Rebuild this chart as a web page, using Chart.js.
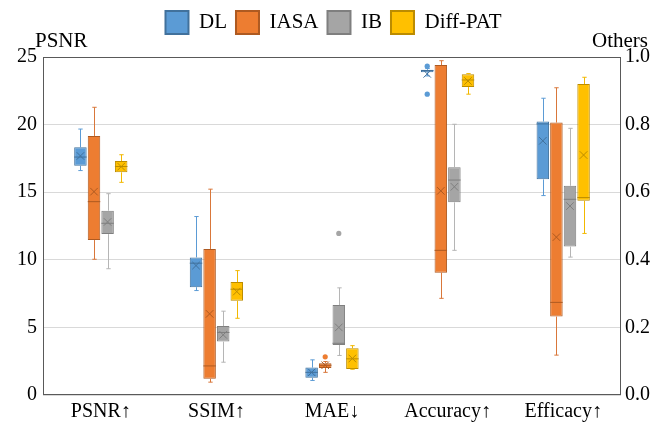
<!DOCTYPE html>
<html><head><meta charset="utf-8">
<script src="https://cdn.jsdelivr.net/npm/chart.js@4/dist/chart.umd.min.js"></script>
<style>html,body{margin:0;padding:0;background:#fff}</style>
</head><body>
<canvas id="c" width="651" height="425"></canvas>
<script>
const categories = ['PSNR↑', 'SSIM↑', 'MAE↓', 'Accuracy↑', 'Efficacy↑'];
const seriesNames = ['DL', 'IASA', 'IB', 'Diff-PAT'];
const leftAxisTitle = 'PSNR';
const rightAxisTitle = 'Others';
const leftTicks = [0, 5, 10, 15, 20, 25];
const rightTicks = [0.0, 0.2, 0.4, 0.6, 0.8, 1.0];

// per category: [whiskerLow, q1, median, q3, whiskerHigh, mean]
// category 0 (PSNR) on the left axis, the rest on the right axis
const dlStats = [
  [16.6, 16.96, 17.6, 18.32, 19.67, 17.68],
  [0.309, 0.319, 0.39, 0.407, 0.528, 0.383],
  [0.043, 0.051, 0.067, 0.081, 0.104, 0.067],
  [0.944, 0.955, 0.960, 0.962, 0.966, 0.950],
  [0.590, 0.638, 0.802, 0.809, 0.878, 0.752]
];
const iasaStats = [
  [10.04, 11.46, 14.3, 19.16, 21.28, 15.04],
  [0.038, 0.048, 0.086, 0.432, 0.609, 0.24],
  [0.067, 0.080, 0.088, 0.094, 0.099, 0.088],
  [0.286, 0.362, 0.428, 0.976, 0.989, 0.604],
  [0.118, 0.232, 0.274, 0.806, 0.909, 0.467]
];
const ibStats = [
  [9.34, 11.9, 12.7, 13.63, 14.89, 12.8],
  [0.097, 0.158, 0.185, 0.204, 0.248, 0.178],
  [0.117, 0.148, 0.153, 0.266, 0.317, 0.2],
  [0.428, 0.570, 0.636, 0.674, 0.801, 0.616],
  [0.408, 0.439, 0.579, 0.619, 0.789, 0.559]
];
const diffPatStats = [
  [15.73, 16.47, 16.9, 17.31, 17.77, 16.89],
  [0.227, 0.279, 0.313, 0.334, 0.368, 0.306],
  [0.076, 0.077, 0.107, 0.138, 0.146, 0.108],
  [0.890, 0.911, 0.932, 0.949, 0.951, 0.929],
  [0.478, 0.575, 0.584, 0.920, 0.940, 0.710]
];
const dlOutliers = [[], [], [], [0.973, 0.890], []];
const iasaOutliers = [[], [], [0.113], [], []];
const ibOutliers = [[], [], [0.478], [], []];
const diffPatOutliers = [[], [], [], [], []];

const fills = ['#5B9BD5', '#ED7D31', '#A5A5A5', '#FFC000'];
const borders = ['#41719C', '#AE5A21', '#7F7F7F', '#BC8C00'];
const whiskers = ['#5B9BD5', '#D9773A', '#B5B5B5', '#F2B800'];
const allStats = [dlStats, iasaStats, ibStats, diffPatStats];
const allOutliers = [dlOutliers, iasaOutliers, ibOutliers, diffPatOutliers];

const datasets = [];
seriesNames.forEach((name, s) => {
  ['y', 'y1'].forEach(axis => {
    datasets.push({
      label: name,
      yAxisID: axis,
      data: allStats[s].map((st, j) => ((axis === 'y') === (j === 0)) ? [st[1], st[3]] : null),
      stats: allStats[s],
      outliers: allOutliers[s],
      backgroundColor: fills[s],
      borderColor: borders[s],
      whiskerColor: whiskers[s],
      borderWidth: 1,
      borderSkipped: false,
      skipNull: true,
      categoryPercentage: 0.47,
      barPercentage: 0.92
    });
  });
});

const serif = '"Liberation Serif", "Times New Roman", serif';

const boxPlugin = {
  id: 'boxExtras',
  afterInit(chart) {
    const lg = chart.legend;
    if (lg) {
      const orig = lg.fit;
      lg.fit = function () { orig.call(this); this.height = 57; };
    }
  },
  afterLayout(chart) {
    const lg = chart.legend;
    if (lg) { lg.left += 8; lg.right += 8; lg.top += 2; lg.bottom += 2; }
  },
  beforeDatasetsDraw(chart) {
    const a = chart.chartArea, ctx = chart.ctx;
    ctx.save();
    ctx.strokeStyle = '#595959';
    ctx.lineWidth = 1;
    ctx.strokeRect(Math.round(a.left) + 0.5, Math.round(a.top) + 0.5,
      Math.round(a.right - a.left) - 1, Math.round(a.bottom - a.top) - 1);
    ctx.restore();
  },
  afterDatasetsDraw(chart) {
    const ctx = chart.ctx;
    ctx.save();
    chart.data.datasets.forEach((ds, di) => {
      const meta = chart.getDatasetMeta(di);
      const scale = chart.scales[ds.yAxisID];
      const px = v => scale.getPixelForValue(v);
      ds.data.forEach((v, j) => {
        if (!v) return;
        const el = meta.data[j];
        const s = ds.stats[j];
        const x = Math.round(el.x) + 0.5;
        const hw = el.width / 2;
        const cw = Math.max(2, hw * 0.35);
        ctx.lineWidth = 1;
        ctx.strokeStyle = ds.whiskerColor;
        ctx.beginPath();
        ctx.moveTo(x, px(s[3])); ctx.lineTo(x, px(s[4]));
        ctx.moveTo(x - cw, px(s[4])); ctx.lineTo(x + cw, px(s[4]));
        ctx.moveTo(x, px(s[1])); ctx.lineTo(x, px(s[0]));
        ctx.moveTo(x - cw, px(s[0])); ctx.lineTo(x + cw, px(s[0]));
        ctx.stroke();
        // median
        ctx.strokeStyle = ds.borderColor;
        ctx.beginPath();
        ctx.moveTo(el.x - hw, px(s[2])); ctx.lineTo(el.x + hw, px(s[2]));
        ctx.stroke();
        // mean marker
        const my = px(s[5]);
        const r = Math.min(4, hw * 0.6);
        ctx.beginPath();
        ctx.moveTo(el.x - r, my - r); ctx.lineTo(el.x + r, my + r);
        ctx.moveTo(el.x + r, my - r); ctx.lineTo(el.x - r, my + r);
        ctx.stroke();
        // outliers
        ctx.fillStyle = ds.backgroundColor;
        ds.outliers[j].forEach(o => {
          ctx.beginPath();
          ctx.arc(el.x, px(o), 2.6, 0, Math.PI * 2);
          ctx.fill();
        });
      });
    });
    ctx.restore();
  },
  afterDraw(chart) {
    const a = chart.chartArea, ctx = chart.ctx;
    ctx.save();
    ctx.fillStyle = '#000';
    ctx.font = '21px ' + serif;
    ctx.textBaseline = 'alphabetic';
    ctx.textAlign = 'left';
    ctx.fillText(leftAxisTitle, a.left - 8, a.top - 10);
    ctx.textAlign = 'right';
    ctx.fillText(rightAxisTitle, chart.width - 3, a.top - 10);
    ctx.restore();
  }
};

Chart.defaults.color = '#000';
new Chart(document.getElementById('c'), {
  type: 'bar',
  data: { labels: categories, datasets },
  plugins: [boxPlugin],
  options: {
    responsive: false,
    animation: false,
    devicePixelRatio: 1,
    layout: { padding: 0 },
    plugins: {
      tooltip: { enabled: false },
      legend: {
        position: 'top',
        labels: {
          font: { family: serif, size: 21 },
          boxWidth: 23,
          boxHeight: 23,
          padding: 9,
          generateLabels: () => seriesNames.map((n, i) => ({
            text: n, fillStyle: fills[i], strokeStyle: borders[i], lineWidth: 2,
            hidden: false, datasetIndex: i * 2
          }))
        }
      }
    },
    scales: {
      x: {
        grid: { display: false, drawTicks: false },
        border: { display: false },
        ticks: { font: { family: serif, size: 20 }, padding: 5, maxRotation: 0 },
        afterFit: s => { s.height = 30; }
      },
      y: {
        position: 'left',
        min: 0, max: 25,
        stacked: false,
        afterBuildTicks: s => { s.ticks = leftTicks.map(v => ({ value: v })); },
        grid: { color: '#D9D9D9', drawTicks: false },
        border: { display: false },
        ticks: { font: { family: serif, size: 20 }, padding: 6 },
        afterFit: s => { s.width = 43; }
      },
      y1: {
        position: 'right',
        min: 0, max: 1,
        stacked: false,
        afterBuildTicks: s => { s.ticks = rightTicks.map(v => ({ value: v })); },
        grid: { display: false, drawTicks: false },
        border: { display: false },
        ticks: { font: { family: serif, size: 20 }, padding: 4, callback: v => Number(v).toFixed(1) },
        afterFit: s => { s.width = 30; }
      }
    }
  }
});
</script>
</body></html>
